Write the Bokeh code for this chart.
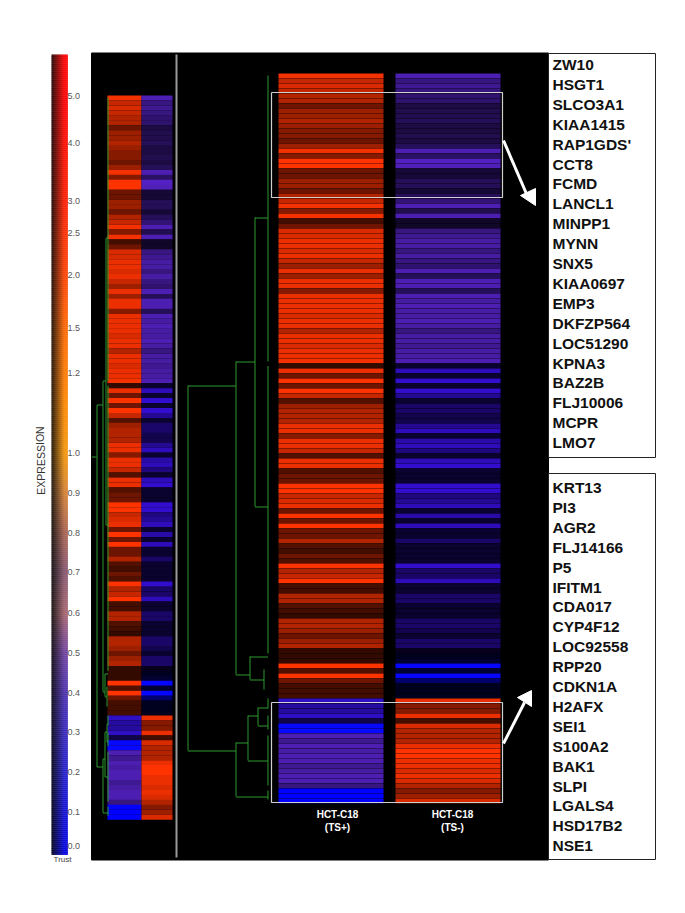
from bokeh.plotting import figure
from bokeh.embed import file_html
from bokeh.resources import INLINE
from bokeh.core.properties import value
from bokeh.models import Range1d
import numpy as np

# ---------- data ----------
# brightness (0-10) of each of the 146 genes, in clustered order
ts_plus = [9.5,7,8,7,6,6,3,5,5,6,5,4,4,3,5,9.5,4,10,10,3,3,5,5,3,6,7,9.5,4,9.5,1.5,3,8,8,9,9,8,9,7,
           5,9,5,9,9,4,9,9,9,9,8,9,9,6,9,9,8,9,9,9.5,
           1,9,3,10,3,10,7,2,5,6,6,6,9,9,4,9,9,7,2,9,9,
           2,3,3,10,10,7,8,9,3,10,3,10,3,3,6,2,1.5,3,2,10,6,7,10,1.5,1.5,6,6,2,1.5,1,6,6,5,3,5,6,1,1,
           1,10,2,10,3,1.5,1.5,1.5,
           8,6,6,8,2,10,10,8,6,8,7,8,8,6,7,8,8,5,10,10,10]
ts_minus = [8,5,6,5,4,4,2,2.5,2.5,3,2,2,2.5,2,3,8,3.5,9,8.5,1.5,1.5,3,3,1.5,3,4.5,8,2.5,8,1,1,5,6,7,7,5,7,5,
            4,8,3,8,8,3,8,7,8,7,7,8,7,5,7,7,6,7,7,8,
            1,7,1,8,1,8,5,1,3,3,2,2,5,7,1,6,7,4,1,7,8,
            1,1,1,8,8,4,5,7,1,6,1,7,1,1,3,1,1,1,1,8,3,3,7,1,1,3,3,1,1,1,3,3,2,1,3,3,0.5,0.5,
            1,10,1,10,3,0.5,0.5,0.5,
            9,4,4,9,1.5,8,6,6,6,9,10,10,9,9,8,9,8,6,4,5,8]
# colour family of the runs of rows, per column: (first row, last row, base colour)
plus_runs = [(0,124,"#ff3300"),(125,129,"#3612e4"),(130,131,"#0808ff"),(132,142,"#5a24d0"),(143,145,"#0000ff")]
minus_runs = [(0,57,"#5a24d0"),(58,115,"#3c10f0"),(116,124,"#0606ff"),(125,145,"#ff3300")]

# dendrogram: links in (distance, row) units
dend_v = [(0,0.4,57.6),(0,58.5,116),(0.16,28.8,86.6),(0.4,57.6,120.2),(1.0,62.4,135.4),(0.4,133.8,144.6),
          (0.225,116.6,121.2),(0.05,119.2,123.2),(0.25,128.4,137.4),(0.125,126.8,130.4),
          (0,125,127),(0,128.4,131.2),(0,132.4,142.4),(0,143.4,145.2)]
dend_h = [(28.8,0.16,0),(86.6,0.16,0),(57.6,0.4,0.16),(62.4,1.0,0.4),(135.4,1.0,0.4),(120.2,0.4,0.225),
          (116.6,0.225,0),(121.2,0.225,0.05),(133.8,0.4,0.25),(144.6,0.4,0),(137.4,0.25,0),
          (128.4,0.25,0.125),(126.8,0.125,0),(130.4,0.125,0)]

column_labels = [("HCT-C18", "(TS+)"), ("HCT-C18", "(TS-)")]
scale_ticks = ["5.0","4.0","3.0","2.5","2.0","1.5","1.2","1.0","0.9","0.8","0.7","0.6","0.5","0.4","0.3","0.2","0.1","0.0"]
genes_top = ["ZW10","HSGT1","SLCO3A1","KIAA1415","RAP1GDS'","CCT8","FCMD","LANCL1","MINPP1","MYNN",
             "SNX5","KIAA0697","EMP3","DKFZP564","LOC51290","KPNA3","BAZ2B","FLJ10006","MCPR","LMO7"]
genes_bottom = ["KRT13","PI3","AGR2","FLJ14166","P5","IFITM1","CDA017","CYP4F12","LOC92558","RPP20",
                "CDKN1A","H2AFX","SEI1","S100A2","BAK1","SLPI","LGALS4","HSD17B2","NSE1"]

# ---------- layout (page pixels) ----------
tick_y = [95,142,200,232,274,327,372,452,492,532,571,612,652,692,731,771,811,845]
grad_y = [54,95,200,274,330,400,452,490,530,570,612,652,692,771,853]
grad_rgb = [(255,0,0),(255,0,0),(255,30,0),(255,68,0),(255,105,0),(255,135,0),(245,150,10),(215,130,50),
            (170,100,80),(135,85,110),(165,100,110),(110,65,160),(75,48,175),(35,30,205),(0,0,225)]

def hexrgb(c):
    return np.array([int(c[i:i+2],16) for i in (1,3,5)],float)
def colours(levels, runs):
    out=[]
    for i,l in enumerate(levels):
        base=next(hexrgb(b) for a,z,b in runs if a<=i<=z)
        r,g,b=(base*(l/10)**0.7).astype(int)
        out.append(f"#{r:02x}{g:02x}{b:02x}")
    return out

p = figure(width=669, height=897, x_range=Range1d(0,669), y_range=Range1d(897,0),
           output_backend="svg", toolbar_location=None, min_border=0, outline_line_color=None,
           background_fill_color="white", border_fill_color="white")
p.axis.visible=False
p.grid.visible=False

# black field
p.quad(left=[91],right=[548],top=[52.5],bottom=[859.5],color="black")

# colour scale
ys=np.arange(54,853,2.0)
qx0,qx1,qy0,qy1,qc=[],[],[],[],[]
for y in ys:
    rgb=np.array([np.interp(y,grad_y,[c[k] for c in grad_rgb]) for k in range(3)])
    for j in range(16):
        f=0.12+0.88*min(1,(j+0.5)/13)
        r,g,b=(rgb*f).astype(int)
        qx0.append(51+j);qx1.append(52.3+j);qy0.append(y);qy1.append(y+2.4);qc.append(f"#{r:02x}{g:02x}{b:02x}")
p.quad(left=qx0,right=qx1,top=qy0,bottom=qy1,color=qc,line_color=None)
p.text(x=[67]*len(tick_y),y=tick_y,text=scale_ticks,text_font=value("Liberation Sans"),text_font_size="9px",
       text_color="#555555",text_baseline="middle",text_align="left")
p.text(x=[62],y=[859],text=["Trust"],text_font=value("Liberation Sans"),text_font_size="8px",
       text_color="#444444",text_baseline="middle",text_align="center")
p.text(x=[40],y=[460],text=["EXPRESSION"],angle=[np.pi/2],text_font=value("Liberation Sans"),text_font_size="10.5px",
       text_color="#333333",text_baseline="middle",text_align="center")

# heatmaps
cp=colours(ts_plus,plus_runs); cm=colours(ts_minus,minus_runs)
r=np.arange(len(ts_plus))
def heat(x0,x1,top,h,fill,cols):
    p.quad(left=[x0]*len(r),right=[x1]*len(r),top=top+r*h,bottom=top+r*h+h*fill,color=cols,line_color=None)
heat(278,383,73,5.0,0.95,cp); heat(395,500,73,5.0,0.95,cm)
heat(107,141,95,4.96,1.02,cp); heat(141,172,95,4.96,1.02,cm)

# dendrograms
GREEN="#2c9a2c"
def dend(xr,xs,top,h,colour):
    xv=[[xr-xs*d]*2 for d,_,_ in dend_v]; yv=[[top+h*a,top+h*b] for _,a,b in dend_v]
    xh=[[xr-xs*a,xr-xs*b] for _,a,b in dend_h]; yh=[[np.floor(top+h*q)+0.5]*2 for q,_,_ in dend_h]
    xv=[[np.floor(a)+0.5,np.floor(b)+0.5] for a,b in xv]
    xh=[[np.floor(a)+0.5,np.floor(b)+0.5] for a,b in xh]
    p.multi_line(xs=xv+xh,ys=yv+yh,line_color=colour,line_width=1)
dend(267,80,73,5.0,GREEN)
dend(107.5,11.5,95,4.96,GREEN)
p.line(x=[91.4,96],y=[456.5,456.5],line_color=GREEN,line_width=1)

# separator
p.line(x=[176,176],y=[54,857],line_color="#999999",line_width=2)

# highlight boxes
for t,b in ((92,197),(702,802)):
    p.line(x=[271,502,502,271,271],y=[t,t,b,b,t],line_color="#d0d0d0",line_width=1.2)

# arrows
p.line(x=[503,528],y=[140,198],line_color="white",line_width=3)
p.patch(x=[535,520,535],y=[205,195,188],color="white")
p.line(x=[503,524],y=[743,702],line_color="white",line_width=3)
p.patch(x=[531,517,531],y=[690,697,706],color="white")

# column labels
for cx,(a,b) in zip((337,452),column_labels):
    p.text(x=[cx,cx],y=[814,827],text=[a,b],text_font=value("Liberation Sans"),text_font_style="bold",
           text_font_size="10px",text_color="white",text_align="center",text_baseline="middle")

# gene boxes
for t,b in ((53,457),(473,859)):
    p.quad(left=[548],right=[655],top=[t],bottom=[b],fill_color="white",line_color="#222222",line_width=1)
top_y=64+np.arange(len(genes_top))*19.9
bot_y=487+np.arange(len(genes_bottom))*19.9
for g,yy in ((genes_top,top_y),(genes_bottom,bot_y)):
    p.text(x=[552]*len(g),y=yy,text=g,text_font=value("Liberation Sans"),text_font_style="bold",
           text_font_size="15.5px",text_color="#111111",text_baseline="middle",text_align="left")

open("out.html","w").write(file_html(p,INLINE))
